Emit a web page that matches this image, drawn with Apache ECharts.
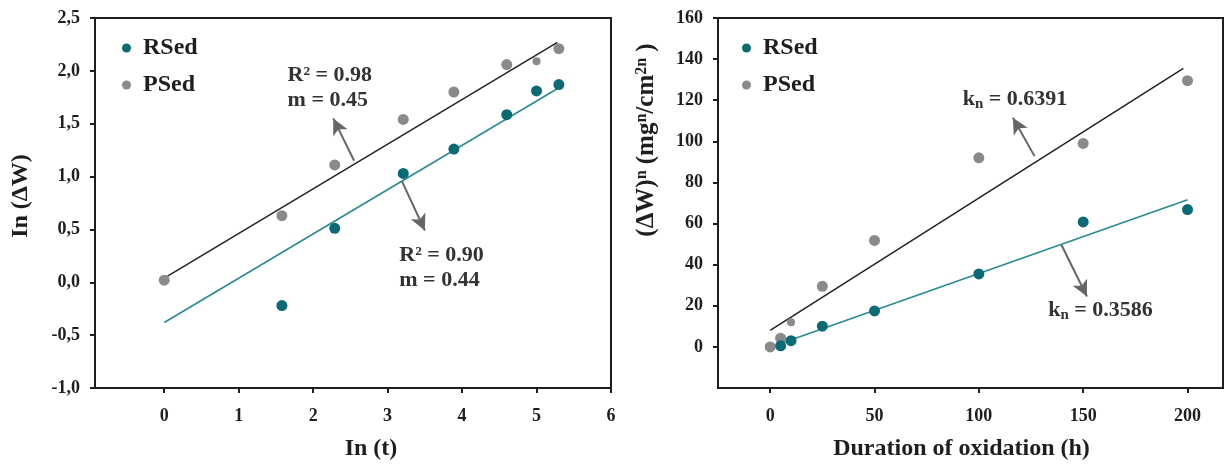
<!DOCTYPE html>
<html>
<head>
<meta charset="utf-8">
<script src="https://cdn.jsdelivr.net/npm/echarts@6/dist/echarts.min.js"></script>
<style>
  html, body { margin: 0; padding: 0; background: #fff; }
  #chart { width: 1225px; height: 466px; }
</style>
</head>
<body>
<div id="chart"></div>
<script>
// ---------- Data ----------
// Left panel: ln(ΔW) vs ln(t)
const leftXTicks = [0, 1, 2, 3, 4, 5, 6];
const leftYTicks = [-1.0, -0.5, 0.0, 0.5, 1.0, 1.5, 2.0, 2.5];
const rsedLeft = [[1.58, -0.22], [2.29, 0.51], [3.21, 1.03], [3.89, 1.26], [4.60, 1.585], [5.00, 1.81], [5.30, 1.87]];
const psedLeft = [[0.0, 0.02], [1.58, 0.63], [2.29, 1.11], [3.21, 1.54], [3.89, 1.80], [4.60, 2.06], [5.30, 2.21]];
const psedLeftSmall = [[5.00, 2.09]];
const rsedFitLeft = [[0.0, -0.38], [5.30, 1.84]];
const psedFitLeft = [[0.0, 0.04], [5.28, 2.27]];
const rsedTextLeft = 'R² = 0.90\nm = 0.44';
const psedTextLeft = 'R² = 0.98\nm = 0.45';

// Right panel: (ΔW)^n vs duration of oxidation
const rightXTicks = [0, 50, 100, 150, 200];
const rightYTicks = [0, 20, 40, 60, 80, 100, 120, 140, 160];
const rsedRight = [[5, 0.5], [10, 3], [25, 10.1], [50, 17.5], [100, 35.5], [150, 60.8], [200, 66.8]];
const psedRight = [[0, 0], [5, 4.2], [25, 29.5], [50, 51.8], [100, 92], [150, 99], [200, 129.5]];
const psedRightSmall = [[10, 12]];
const rsedFitRight = [[3, 0.9], [200, 71.6]];
const psedFitRight = [[0, 8.0], [198, 135.5]];
const rsedKn = '0.3586';
const psedKn = '0.6391';

// ---------- Styles ----------
const FF = "'Liberation Serif', 'Times New Roman', serif";
const TEAL = '#0b6b74';
const TEAL_LINE = '#2a8b91';
const GRAY = '#8a8a8a';
const DARK = '#1e1e1e';
const ARROW = '#666666';

const axisLineStyle = { show: true, onZero: false, lineStyle: { color: DARK, width: 2 } };

const arrowMark = (pairs) => ({
  silent: true,
  animation: false,
  symbol: ['none', 'arrow'],
  symbolSize: [12, 16],
  lineStyle: { color: ARROW, width: 2, type: 'solid' },
  label: { show: false },
  data: pairs.map(p => [{ coord: p[0] }, { coord: p[1] }])
});

const textMark = (coord, formatter, rich) => ({
  silent: true,
  animation: false,
  symbol: 'circle',
  symbolSize: 1,
  itemStyle: { color: 'rgba(0,0,0,0)' },
  data: [{
    coord: coord,
    label: {
      show: true, position: 'right', distance: 0,
      formatter: formatter,
      color: '#333', fontFamily: FF, fontWeight: 'bold', fontSize: 22, lineHeight: 25,
      align: 'left',
      rich: rich || {}
    }
  }]
});

const knRich = {
  b: { fontFamily: FF, fontWeight: 'bold', fontSize: 22, color: '#333' },
  s: { fontFamily: FF, fontWeight: 'bold', fontSize: 15, color: '#333', padding: [10, 0, 0, 0] }
};

const chart = echarts.init(document.getElementById('chart'), null, { renderer: 'canvas' });

const legendCommon = {
  data: ['RSed', 'PSed'], orient: 'vertical', top: 31, itemGap: 13,
  icon: 'circle', itemWidth: 9, itemHeight: 9, selectedMode: false,
  textStyle: { fontFamily: FF, fontWeight: 'bold', fontSize: 24, color: DARK, padding: [0, 0, 0, 7] }
};

const option = {
  animation: false,
  backgroundColor: '#ffffff',
  grid: [
    { left: 95, top: 18, width: 516, height: 372, show: true, borderColor: DARK, borderWidth: 2, backgroundColor: 'transparent' },
    { left: 718, top: 18, width: 505, height: 372, show: true, borderColor: DARK, borderWidth: 2, backgroundColor: 'transparent' }
  ],
  legend: [
    Object.assign({ left: 117 }, legendCommon),
    Object.assign({ left: 737 }, legendCommon)
  ],
  xAxis: [
    {
      type: 'value', gridIndex: 0, min: -0.93, max: 6, splitLine: { show: false },
      axisLine: axisLineStyle,
      name: 'In (t)', nameLocation: 'middle', nameGap: 49,
      nameTextStyle: { fontFamily: FF, fontWeight: 'bold', fontSize: 24, color: DARK, padding: [0, 0, 0, 36] },
      axisTick: { show: true, length: 5, lineStyle: { color: DARK, width: 2 }, customValues: leftXTicks },
      axisLabel: { color: DARK, fontFamily: FF, fontWeight: 'bold', fontSize: 18, margin: 19, customValues: leftXTicks }
    },
    {
      type: 'value', gridIndex: 1, min: -25, max: 217, splitLine: { show: false },
      axisLine: axisLineStyle,
      name: 'Duration of oxidation (h)', nameLocation: 'middle', nameGap: 49,
      nameTextStyle: { fontFamily: FF, fontWeight: 'bold', fontSize: 24, color: DARK, padding: [0, 18, 0, 0] },
      axisTick: { show: true, length: 5, lineStyle: { color: DARK, width: 2 }, customValues: rightXTicks },
      axisLabel: { color: DARK, fontFamily: FF, fontWeight: 'bold', fontSize: 18, margin: 19, customValues: rightXTicks }
    }
  ],
  yAxis: [
    {
      type: 'value', gridIndex: 0, min: -1, max: 2.5, interval: 0.5, splitLine: { show: false },
      axisLine: axisLineStyle,
      name: 'In (ΔW)', nameLocation: 'middle', nameGap: 62,
      nameTextStyle: { fontFamily: FF, fontWeight: 'bold', fontSize: 24, color: DARK, padding: [0, 0, 0, 14] },
      axisTick: { show: true, length: 5, lineStyle: { color: DARK, width: 2 }, customValues: leftYTicks },
      axisLabel: {
        color: DARK, fontFamily: FF, fontWeight: 'bold', fontSize: 18, margin: 15, customValues: leftYTicks,
        formatter: v => Number(v).toFixed(1).replace('.', ',')
      }
    },
    {
      type: 'value', gridIndex: 1, min: -20, max: 160, splitLine: { show: false },
      axisLine: axisLineStyle,
      name: '{b|(ΔW)}{p|n}{b| (mg}{p|n}{b|/cm}{p|2n}{b| )}', nameLocation: 'middle', nameGap: 58,
      nameTextStyle: {
        color: DARK, padding: [0, 0, 0, 126],
        rich: {
          b: { fontFamily: FF, fontWeight: 'bold', fontSize: 25, color: DARK },
          p: { fontFamily: FF, fontWeight: 'bold', fontSize: 16, color: DARK, padding: [0, 0, 10, 0] }
        }
      },
      axisTick: { show: true, length: 5, lineStyle: { color: DARK, width: 2 }, customValues: rightYTicks },
      axisLabel: { color: DARK, fontFamily: FF, fontWeight: 'bold', fontSize: 18, margin: 15, customValues: rightYTicks }
    }
  ],
  series: [
    // ----- Left panel -----
    {
      name: 'PSed fit', type: 'line', xAxisIndex: 0, yAxisIndex: 0, data: psedFitLeft,
      symbol: 'none', lineStyle: { color: DARK, width: 1.4 }, z: 2, silent: true,
      markPoint: textMark([1.65, 1.84], psedTextLeft),
      markLine: arrowMark([[[2.55, 1.15], [2.27, 1.55]]])
    },
    {
      name: 'RSed fit', type: 'line', xAxisIndex: 0, yAxisIndex: 0, data: rsedFitLeft,
      symbol: 'none', lineStyle: { color: TEAL_LINE, width: 1.6 }, z: 2, silent: true,
      markPoint: textMark([3.15, 0.14], rsedTextLeft),
      markLine: arrowMark([[[3.19, 0.96], [3.50, 0.49]]])
    },
    {
      name: 'PSed', type: 'scatter', xAxisIndex: 0, yAxisIndex: 0, data: psedLeft,
      symbol: 'circle', symbolSize: 11, itemStyle: { color: GRAY, opacity: 1 }, z: 3
    },
    {
      name: 'PSed', type: 'scatter', xAxisIndex: 0, yAxisIndex: 0, data: psedLeftSmall,
      symbol: 'circle', symbolSize: 8, itemStyle: { color: GRAY, opacity: 1 }, z: 3
    },
    {
      name: 'RSed', type: 'scatter', xAxisIndex: 0, yAxisIndex: 0, data: rsedLeft,
      symbol: 'circle', symbolSize: 11, itemStyle: { color: TEAL, opacity: 1 }, z: 4
    },
    // ----- Right panel -----
    {
      name: 'PSed fit', type: 'line', xAxisIndex: 1, yAxisIndex: 1, data: psedFitRight,
      symbol: 'none', lineStyle: { color: DARK, width: 1.4 }, z: 2, silent: true,
      markPoint: textMark([92, 120.3], '{b|k}{s|n}{b| = ' + psedKn + '}', knRich),
      markLine: arrowMark([[[126.7, 92.8], [116.3, 111.5]]])
    },
    {
      name: 'RSed fit', type: 'line', xAxisIndex: 1, yAxisIndex: 1, data: rsedFitRight,
      symbol: 'none', lineStyle: { color: TEAL_LINE, width: 1.6 }, z: 2, silent: true,
      markPoint: textMark([133, 17.7], '{b|k}{s|n}{b| = ' + rsedKn + '}', knRich),
      markLine: arrowMark([[[139.6, 49.6], [151.8, 24.5]]])
    },
    {
      name: 'PSed', type: 'scatter', xAxisIndex: 1, yAxisIndex: 1, data: psedRight,
      symbol: 'circle', symbolSize: 11, itemStyle: { color: GRAY, opacity: 1 }, z: 3
    },
    {
      name: 'PSed', type: 'scatter', xAxisIndex: 1, yAxisIndex: 1, data: psedRightSmall,
      symbol: 'circle', symbolSize: 8, itemStyle: { color: GRAY, opacity: 1 }, z: 3
    },
    {
      name: 'RSed', type: 'scatter', xAxisIndex: 1, yAxisIndex: 1, data: rsedRight,
      symbol: 'circle', symbolSize: 11, itemStyle: { color: TEAL, opacity: 1 }, z: 4
    }
  ]
};

chart.setOption(option);
</script>
</body>
</html>
